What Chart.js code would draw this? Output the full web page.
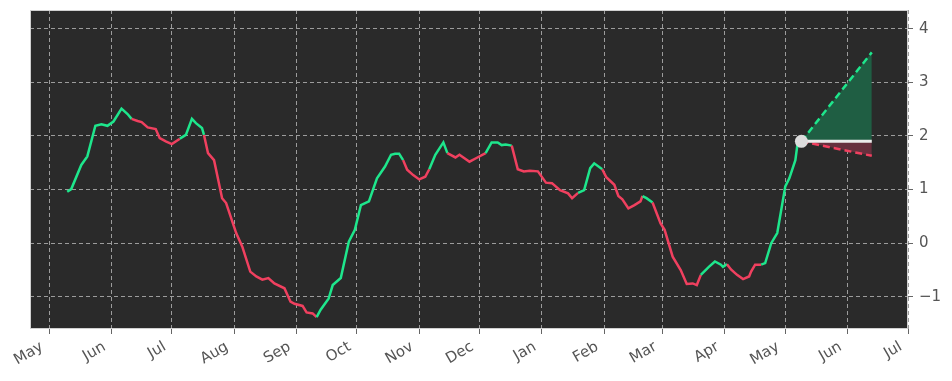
<!DOCTYPE html>
<html><head><meta charset="utf-8">
<script src="https://cdn.jsdelivr.net/npm/chart.js@4/dist/chart.umd.min.js"></script>
<style>html,body{margin:0;padding:0;background:#fff}#wrap{width:952px;height:381px;position:relative}</style>
</head><body><div id="wrap"><canvas id="c"></canvas></div>
<script>
// ---- data ----
const dates = [
 '2023-05-10','2023-05-12','2023-05-17','2023-05-20','2023-05-24','2023-05-27','2023-05-30','2023-06-02','2023-06-06','2023-06-09',
 '2023-06-11','2023-06-14','2023-06-16','2023-06-19','2023-06-23','2023-06-25','2023-06-28','2023-07-01','2023-07-05','2023-07-08',
 '2023-07-11','2023-07-13','2023-07-16','2023-07-17','2023-07-19','2023-07-22','2023-07-26','2023-07-28','2023-08-02','2023-08-05',
 '2023-08-09','2023-08-12','2023-08-15','2023-08-18','2023-08-21','2023-08-26','2023-08-29','2023-08-31','2023-09-04','2023-09-06',
 '2023-09-09','2023-09-11','2023-09-13','2023-09-17','2023-09-19','2023-09-23','2023-09-27','2023-09-30','2023-10-03','2023-10-07',
 '2023-10-11','2023-10-15','2023-10-18','2023-10-20','2023-10-22','2023-10-24','2023-10-26','2023-10-29','2023-11-01','2023-11-04',
 '2023-11-06','2023-11-09','2023-11-13','2023-11-15','2023-11-19','2023-11-21','2023-11-26','2023-11-29','2023-12-04','2023-12-07',
 '2023-12-10','2023-12-12','2023-12-14','2023-12-17','2023-12-20','2023-12-23','2023-12-26','2023-12-30','2024-01-03','2024-01-06',
 '2024-01-10','2024-01-14','2024-01-16','2024-01-19','2024-01-22','2024-01-25','2024-01-27','2024-01-31','2024-02-02','2024-02-06',
 '2024-02-08','2024-02-10','2024-02-13','2024-02-16','2024-02-19','2024-02-20','2024-02-22','2024-02-25','2024-02-29','2024-03-02',
 '2024-03-06','2024-03-10','2024-03-13','2024-03-16','2024-03-18','2024-03-20','2024-03-24','2024-03-27','2024-03-30','2024-03-31',
 '2024-04-02','2024-04-04','2024-04-07','2024-04-10','2024-04-13','2024-04-14','2024-04-16','2024-04-19','2024-04-21','2024-04-24',
 '2024-04-27','2024-05-01','2024-05-03','2024-05-06','2024-05-07','2024-05-09'
];
const values = [
 0.96,1.01,1.46,1.62,2.19,2.22,2.19,2.27,2.51,2.41,
 2.32,2.28,2.26,2.16,2.13,1.96,1.90,1.85,1.95,2.02,
 2.32,2.24,2.15,2.02,1.68,1.55,0.84,0.75,0.19,-0.06,
 -0.53,-0.62,-0.68,-0.65,-0.75,-0.84,-1.09,-1.13,-1.17,-1.29,
 -1.31,-1.38,-1.24,-1.03,-0.78,-0.65,0.03,0.25,0.71,0.78,
 1.21,1.43,1.65,1.67,1.67,1.55,1.37,1.27,1.19,1.24,
 1.38,1.65,1.88,1.68,1.60,1.65,1.52,1.58,1.68,1.88,
 1.88,1.83,1.84,1.82,1.38,1.34,1.35,1.34,1.13,1.12,
 0.99,0.93,0.84,0.94,0.99,1.40,1.49,1.38,1.23,1.09,
 0.88,0.82,0.65,0.71,0.78,0.88,0.84,0.76,0.37,0.25,
 -0.25,-0.50,-0.76,-0.75,-0.78,-0.59,-0.44,-0.34,-0.40,-0.44,
 -0.39,-0.49,-0.59,-0.67,-0.62,-0.53,-0.40,-0.40,-0.37,0.00,
 0.19,1.06,1.21,1.55,1.83,1.90
];
// trend of the segment that starts at each point: u = up (green), d = down (red)
const trend = (
 'uuuuuuuuuu' + 'dddddddduu' + 'uuuddddddd' + 'dddddddddd' +
 'duuuuuuuuu' + 'uuuuuddddd' + 'uuuddddduu' + 'uuuddddddd' +
 'ddduuuuddd' + 'ddddduuddd' + 'ddddduuuuu' + 'ddddddduuu' +
 'uuuuuu').split('');

const forecastDates = ['2024-05-09', '2024-06-13'];
const forecastUpper = [1.90, 3.56];
const forecastBase  = [1.90, 1.90];
const forecastLower = [1.90, 1.63];

const monthTicks = ['2023-05-01','2023-06-01','2023-07-01','2023-08-01','2023-09-01','2023-10-01','2023-11-01',
 '2023-12-01','2024-01-01','2024-02-01','2024-03-01','2024-04-01','2024-05-01','2024-06-01','2024-07-01'];
const monthLabels = ['May','Jun','Jul','Aug','Sep','Oct','Nov','Dec','Jan','Feb','Mar','Apr','May','Jun','Jul'];
const yTicks = [-1, 0, 1, 2, 3, 4];
const xStart = '2023-04-21T12:00:00Z';
const xEnd = '2024-07-01';

// ---- rendering ----
const DAY = s => (Date.parse(s) - Date.parse('2023-05-01')) / 864e5;
const GREEN = '#1ee68c', RED = '#f0405f';
const hist = dates.map((d, i) => ({x: DAY(d), y: values[i]}));
const fx = forecastDates.map(DAY);
const mk = arr => fx.map((x, i) => ({x, y: arr[i]}));

const bgPlugin = {
  id: 'bg',
  beforeDraw(chart) {
    const {ctx, chartArea: a} = chart;
    ctx.save();
    ctx.fillStyle = '#2a2a2a';
    ctx.fillRect(a.left, a.top, a.right - a.left, a.bottom - a.top);
    ctx.restore();
  },
  afterDraw(chart) {
    const {ctx, chartArea: a} = chart;
    ctx.save();
    ctx.strokeStyle = '#d0d0d0';
    ctx.lineWidth = 1;
    ctx.strokeRect(a.left + 0.5, a.top + 0.5, a.right - a.left - 1, a.bottom - a.top - 1);
    ctx.restore();
  }
};

const font = {family: 'DejaVu Sans', size: 15};
const gridOpts = {color: '#9c9c9c', lineWidth: 1, tickLength: 5, tickColor: '#666666', tickBorderDash: []};
const noPad = s => { s.paddingTop = 0; s.paddingBottom = 0; s.paddingLeft = 0; s.paddingRight = 0; };

new Chart(document.getElementById('c'), {
  type: 'line',
  data: {
    datasets: [
      {data: [{x: fx[0], y: forecastBase[0]}], showLine: false, pointRadius: 6.5, pointHoverRadius: 6.5,
       pointBackgroundColor: '#dcdcdc', pointBorderWidth: 0, order: 0},
      {data: mk(forecastBase), borderColor: '#ebebeb', borderWidth: 3, pointRadius: 0, order: 1},
      {data: mk(forecastUpper), borderColor: GREEN, borderDash: [7, 4], borderWidth: 2.5, pointRadius: 0,
       fill: 1, backgroundColor: '#1f5e43', order: 2},
      {data: mk(forecastLower), borderColor: RED, borderDash: [7, 4], borderWidth: 2.5, pointRadius: 0,
       fill: 1, backgroundColor: '#66303e', order: 2},
      {data: hist, borderWidth: 2.5, pointRadius: 0, borderColor: GREEN, tension: 0, order: 3,
       segment: {borderColor: c => trend[c.p0DataIndex] === 'u' ? GREEN : RED}}
    ]
  },
  options: {
    responsive: true, maintainAspectRatio: false, animation: false,
    layout: {padding: {left: 30, top: 10, right: 0, bottom: 0}},
    plugins: {legend: {display: false}, tooltip: {enabled: false}},
    scales: {
      x: {
        type: 'linear', min: DAY(xStart), max: DAY(xEnd),
        afterBuildTicks: s => { s.ticks = monthTicks.map(d => ({value: DAY(d)})); },
        afterFit: s => { s.height = 52; noPad(s); },
        ticks: {autoSkip: false, maxRotation: 30, minRotation: 30, padding: 4, labelOffset: -7,
                color: '#555555', font, callback: (v, i) => monthLabels[i]},
        grid: gridOpts,
        border: {display: false, dash: [4, 3]}
      },
      y: {
        position: 'right', min: -1.6, max: 4.35,
        afterBuildTicks: s => { s.ticks = yTicks.map(v => ({value: v})); },
        afterFit: s => { s.width = 44; noPad(s); },
        ticks: {padding: 6, color: '#555555', font,
                callback: v => v < 0 ? '\u2212' + Math.abs(v) : String(v)},
        grid: gridOpts,
        border: {display: false, dash: [4, 3]}
      }
    }
  },
  plugins: [bgPlugin]
});
</script>
</body></html>
